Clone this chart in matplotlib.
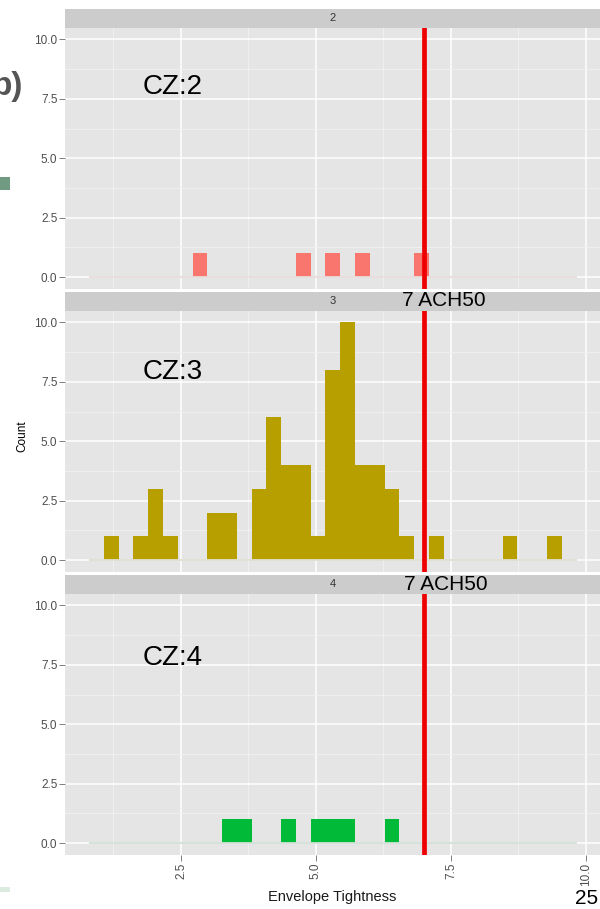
import matplotlib
matplotlib.use("Agg")
import matplotlib.pyplot as plt
from matplotlib.patches import Rectangle
import numpy as np

plt.rcParams['font.family'] = ['Liberation Sans', 'DejaVu Sans']

# ---------------- data ----------------
bin_start = 0.8
bin_width = 0.2735
n_bins = 33

panels = ["2", "3", "4"]
panel_labels = ["CZ:2", "CZ:3", "CZ:4"]
colors = ["#F8766D", "#B79F00", "#00BA38"]

counts_cz2 = [0, 0, 0, 0, 0, 0, 0, 1, 0, 0, 0, 0, 0, 0, 1, 0, 1, 0, 1, 0,
              0, 0, 1, 0, 0, 0, 0, 0, 0, 0, 0, 0, 0]
counts_cz3 = [0, 1, 0, 1, 3, 1, 0, 0, 2, 2, 0, 3, 6, 4, 4, 1, 8, 10, 4, 4,
              3, 1, 0, 1, 0, 0, 0, 0, 1, 0, 0, 1, 0]
counts_cz4 = [0, 0, 0, 0, 0, 0, 0, 0, 0, 1, 1, 0, 0, 1, 0, 1, 1, 1, 0, 0,
              1, 0, 0, 0, 0, 0, 0, 0, 0, 0, 0, 0, 0]
all_counts = [counts_cz2, counts_cz3, counts_cz4]

ach50 = 7.0
ach_label = "7 ACH50"
x_ticks = [2.5, 5.0, 7.5, 10.0]
x_tick_labels = ["2.5", "5.0", "7.5", "10.0"]
x_minor = [1.25, 3.75, 6.25, 8.75]
y_ticks = [0.0, 2.5, 5.0, 7.5, 10.0]
y_tick_labels = ["0.0", "2.5", "5.0", "7.5", "10.0"]
y_minor = [1.25, 3.75, 6.25, 8.75]
x_label = "Envelope Tightness"
y_label = "Count"
page_no = "25"

# ---------------- layout ----------------
W, H = 600, 909
fig = plt.figure(figsize=(W / 100, H / 100), dpi=100)


def fx(x):
    return x / W


def fy(y):
    return 1 - y / H


def add_box(x0, y0, x1, y1, **kw):
    return fig.add_axes([fx(x0), fy(y1), fx(x1) - fx(x0), (y1 - y0) / H], **kw)


left, right = 65, 600
strip_tops = [8.5, 291.5, 574.5]
strip_h = 19
panel_h = 261.5

edges = bin_start + bin_width * np.arange(n_bins + 1)

for i, (lab, cnts, col) in enumerate(zip(panels, all_counts, colors)):
    st = strip_tops[i]
    # strip
    sax = add_box(left, st, right, st + strip_h)
    sax.set_facecolor("#CCCCCC")
    sax.set_xticks([]); sax.set_yticks([])
    for s in sax.spines.values():
        s.set_visible(False)
    sax.text(0.5, 0.5, lab, transform=sax.transAxes, ha="center", va="center",
             fontsize=8, color="#333333")

    ax = add_box(left, st + strip_h, right, st + strip_h + panel_h)
    ax.set_facecolor("#E5E5E5")
    for s in ax.spines.values():
        s.set_visible(False)
    ax.set_xlim(0.352, 10.26)
    ax.set_ylim(-0.5, 10.5)
    ax.set_xticks(x_ticks)
    ax.set_xticks(x_minor, minor=True)
    ax.set_yticks(y_ticks)
    ax.set_yticks(y_minor, minor=True)
    ax.set_yticklabels(y_tick_labels)
    ax.grid(True, which="major", color="white", lw=1.1)
    ax.grid(True, which="minor", color="#F2F2F2", lw=0.6)
    ax.set_axisbelow(True)
    ax.tick_params(axis="y", which="major", length=4, width=0.7, color="#7f7f7f",
                   labelsize=8.5, labelcolor="#4d4d4d", pad=1.5)
    ax.tick_params(which="minor", length=0)
    if i < 2:
        ax.tick_params(axis="x", which="major", length=0, labelbottom=False)
    else:
        ax.set_xticklabels(x_tick_labels, rotation=90)
        ax.tick_params(axis="x", which="major", length=4, width=0.7, color="#7f7f7f",
                       labelsize=8.5, labelcolor="#4d4d4d", pad=1.5)

    ax.bar(edges[:-1], cnts, width=bin_width, align="edge", color=col,
           linewidth=0, zorder=2)
    ax.hlines(0, edges[0], edges[-1], color="#E5E5E5", lw=1.3, zorder=2)
    ax.hlines(0, edges[0], edges[-1], color=col, alpha=0.08, lw=1.3, zorder=2)
    ax.axvline(ach50, color="#EE0000", lw=3.4, zorder=3)

# annotations
fig.text(fx(143), fy(87), panel_labels[0], fontsize=20, ha="left", va="center", color="black")
fig.text(fx(143), fy(372), panel_labels[1], fontsize=20, ha="left", va="center", color="black")
fig.text(fx(143), fy(658), panel_labels[2], fontsize=20, ha="left", va="center", color="black")
fig.text(fx(401.5), fy(301), ach_label, fontsize=15, ha="left", va="center", color="black")
fig.text(fx(404), fy(585), ach_label, fontsize=15, ha="left", va="center", color="black")

fig.text(fx(22.5), fy(436), y_label, rotation=90, fontsize=8.5, ha="center", va="center",
         color="black")
fig.text(fx(332), fy(897), x_label, fontsize=10.5, ha="center", va="center", color="#1a1a1a")
fig.text(fx(598), fy(898), page_no, fontsize=15, ha="right", va="center", color="black")

# slide remnants on the left edge
fig.text(fx(23), fy(87), "b)", fontsize=24, fontweight="bold", ha="right", va="center",
         color="#555555")
fig.patches.append(Rectangle((0, fy(190)), fx(10), 13.3 / H, transform=fig.transFigure,
                             facecolor="#719A82", edgecolor="none"))
fig.patches.append(Rectangle((0, fy(892)), fx(10), 5 / H, transform=fig.transFigure,
                             facecolor="#DCEBDF", edgecolor="none"))

fig.savefig("out.png", dpi=100)
